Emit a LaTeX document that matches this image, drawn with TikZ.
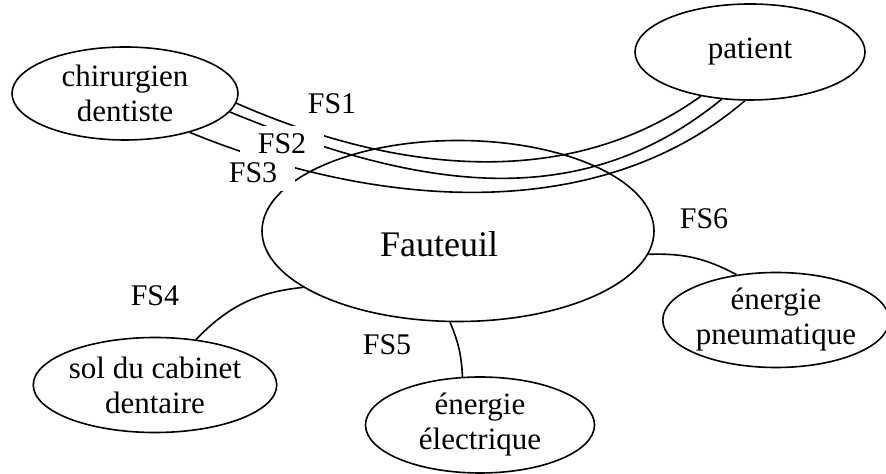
\documentclass[tikz,border=0pt]{standalone}
\usepackage{fontspec}
\setmainfont{Liberation Serif}
\usetikzlibrary{shapes.geometric}

\begin{document}
\begin{tikzpicture}[x=0.5pt,y=-0.5pt,line width=0.8pt,
	bulle/.style={draw,ellipse,inner sep=0pt,align=center,minimum width=115pt,minimum height=48pt,font=\fontsize{15.5}{17.5}\selectfont},
	fs/.style={fill=white,inner xsep=9pt,inner ysep=4pt,font=\fontsize{15}{17}\selectfont}]
\useasboundingbox (0,0) rectangle (886,474);

%milieux exterieurs
\node[bulle,minimum width=113pt,minimum height=46.5pt] (chir) at (125,93.5) {chirurgien\\dentiste};
\node[bulle] (pat) at (750,52) {patient};
\node[bulle,minimum width=108pt,minimum height=47.5pt] (pneu) at (776,320) {énergie\\pneumatique};
\node[bulle,minimum width=114.5pt,minimum height=47.5pt] (sol) at (155,385) {sol du cabinet\\dentaire};
\node[bulle,minimum width=114.5pt] (elec) at (480,425) {énergie\\électrique};

%produit
\node[bulle,minimum width=196pt,minimum height=90.5pt,
	label={[xshift=-9.5pt,yshift=-6.5pt,font=\fontsize{18}{20}\selectfont]center:Fauteuil}] (fauteuil) at (458,231) {};

%FS1, FS2, FS3
\draw (chir.-5) .. controls (400,175) and (570,190) .. (pat.-138);
\draw (chir.-10) .. controls (420,190) and (580,215) .. (pat.-121);
\draw (chir.-31) .. controls (380,210) and (600,225) .. (pat.-96);

%FS4
\draw (fauteuil.-160) to[bend right=20] (sol.48);
%FS5
\draw (fauteuil.-95) to[bend left=10] (elec.110);
%FS6
\draw (fauteuil.-7) to[bend left=15] (pneu.131);

%etiquettes
\node[fs] (fs1) at (332,104) {FS1};
\node[fs] (fs2) at (282,144) {FS2};
\node[fs] (fs3) at (253,173) {FS3};
\node[fs] (fs4) at (155,296) {FS4};
\node[fs] (fs5) at (387,345) {FS5};
\node[fs] (fs6) at (704,219) {FS6};

\end{tikzpicture}
\end{document}
